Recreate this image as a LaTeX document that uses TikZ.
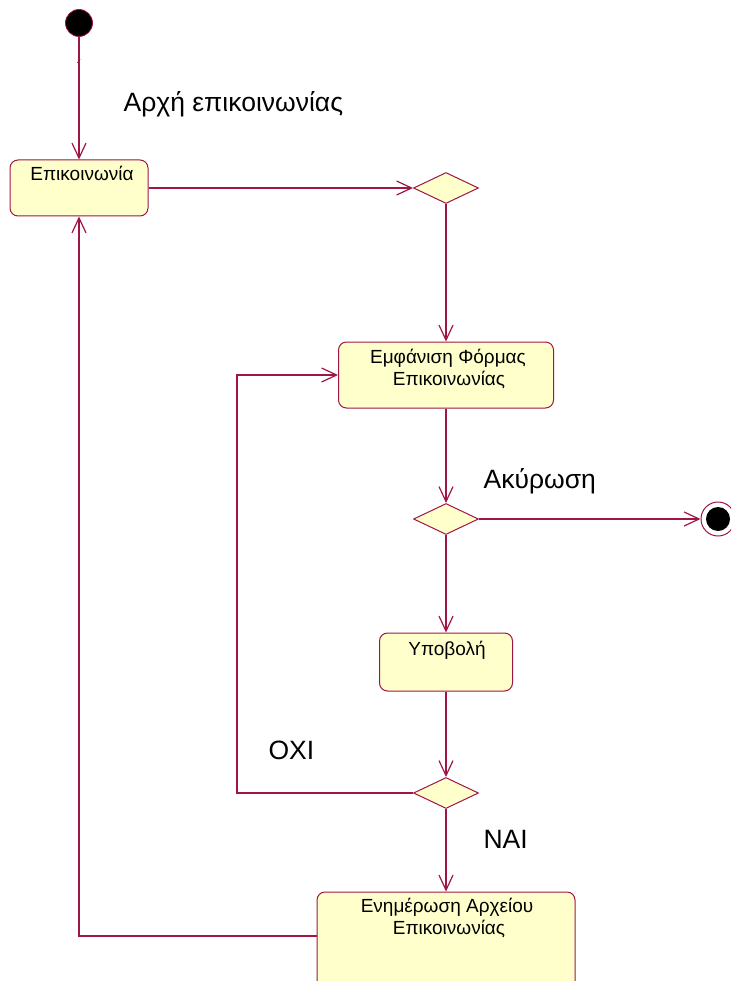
\documentclass[tikz,border=0pt]{standalone}
\usepackage{fontspec}
\setmainfont{Liberation Sans}
\usetikzlibrary{arrows.meta,shapes.geometric}
\definecolor{rose}{RGB}{160,20,70}
\definecolor{fillY}{RGB}{255,255,204}
\begin{document}
\begin{tikzpicture}[x=1pt,y=-1pt,line width=1.2pt,
  act/.style={draw=rose, fill=fillY, rounded corners=8pt, inner sep=0pt, line width=1pt},
  dec/.style={diamond, draw=rose, fill=fillY, minimum width=65pt, minimum height=31pt, inner sep=0pt, line width=1pt},
  flow/.style={draw=rose, -{Straight Barb[length=15pt,width=14pt,line width=1.2pt]}},
  line/.style={draw=rose},
  lbl/.style={font=\fontsize{26.5}{30}\selectfont, inner sep=0pt, anchor=base west},
  btxt/.style={font=\fontsize{19}{22}\selectfont, inner sep=0pt, anchor=base}
]
\clip (0,0) rectangle (731,981);
\fill[white] (0,0) rectangle (731,981);
% nodes
\node[circle, fill=black, draw=rose, line width=0.8pt, minimum size=27pt, inner sep=0pt] (start) at (79,23) {};
\node[act, minimum width=138pt, minimum height=56pt] (b1) at (79,188) {};
\node[dec] (d1) at (446,188) {};
\node[act, minimum width=215pt, minimum height=66pt] (b2) at (446,375) {};
\node[dec] (d2) at (446,519) {};
\node[circle, draw=rose, fill=white, line width=1pt, minimum size=34pt, inner sep=0pt] (end) at (718,519) {};
\node[circle, fill=black, minimum size=24pt, inner sep=0pt] (endin) at (end.center) {};
\node[act, minimum width=133pt, minimum height=58pt] (b3) at (446,662) {};
\node[dec] (d3) at (446,793) {};
\node[act, minimum width=258pt, minimum height=98pt] (b4) at (446,941) {};
\coordinate (c1) at (237,793);
\coordinate (c2) at (79,936);
% box texts
\node[btxt] (t1) at (82,181) {Επικοινωνία};
\node[btxt] (t2a) at (448,363) {Εμφάνιση Φόρμας};
\node[btxt] (t2b) at (449,385) {Επικοινωνίας};
\node[btxt] (t3) at (447,655) {Υποβολή};
\node[btxt] (t4a) at (447,912) {Ενημέρωση Αρχείου};
\node[btxt] (t4b) at (449,934) {Επικοινωνίας};
% labels
\node[lbl] (l1) at (123,112) {Αρχή επικοινωνίας};
\node[lbl] (l2) at (483,488) {Ακύρωση};
\node[lbl] (l3) at (268,759) {ΟΧΙ};
\node[lbl] (l4) at (483,848) {ΝΑΙ};
% connectors
\draw[flow] (start) -- (b1.north);
\draw[line, line width=0.8pt] (77.5,63) -- (80,59);
\draw[flow] (b1.east) -- (d1.west);
\draw[flow] (d1.south) -- (b2.north);
\draw[flow] (b2.south) -- (d2.north);
\draw[flow] (d2.east) -- (end.west);
\draw[flow] (d2.south) -- (b3.north);
\draw[flow] (b3.south) -- (d3.north);
\draw[flow] (d3.west) -- (c1) |- (b2.west);
\draw[flow] (d3.south) -- (b4.north);
\draw[flow] (b4.west |- c2) -- (c2) -- (b1.south);
\end{tikzpicture}
\end{document}
